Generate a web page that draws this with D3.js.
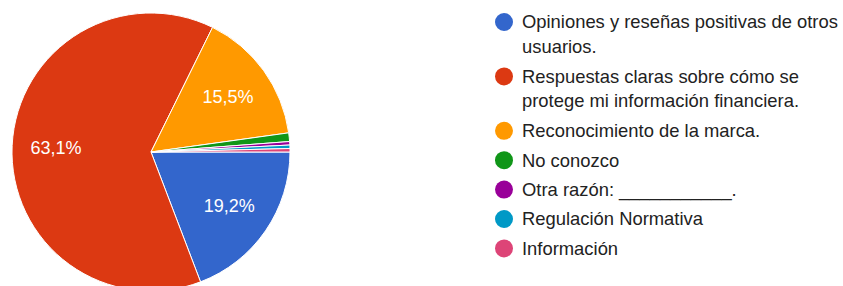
<!DOCTYPE html>
<html>
<head>
<meta charset="utf-8">
<script src="https://cdn.jsdelivr.net/npm/d3@7"></script>
<style>
  body { margin: 0; background: #fff; }
  svg { display: block; font-family: "Liberation Sans", Arial, sans-serif; }
</style>
</head>
<body>
<script>
const width = 843;
const height = 286;

// categories (legend lines as shown, wrapped)
const categories = [
	["Opiniones y reseñas positivas de otros", "usuarios."],
	["Respuestas claras sobre cómo se", "protege mi información financiera."],
	["Reconocimiento de la marca."],
	["No conozco"],
	["Otra razón: ___________."],
	["Regulación Normativa"],
	["Información"]
];
// share of answers, percent
const values = [19.2, 63.1, 15.5, 1.0, 0.4, 0.4, 0.4];
const colors = ["#3366cc", "#dc3912", "#ff9900", "#109618", "#990099", "#0099c6", "#dd4477"];

const cx = 151, cy = 152, radius = 139;

const svg = d3.select("body")
	.append("svg")
	.attr("width", width)
	.attr("height", height);

const pie = d3.pie()
	.sort(null)
	.value(d => d)
	.startAngle(Math.PI / 2)
	.endAngle(Math.PI / 2 + 2 * Math.PI);

const arc = d3.arc()
	.innerRadius(0)
	.outerRadius(radius);

const labelArc = d3.arc()
	.innerRadius(95)
	.outerRadius(95);

const arcs = pie(values);

const g = svg.append("g")
	.attr("transform", `translate(${cx},${cy})`);

g.selectAll("path")
	.data(arcs)
	.enter()
	.append("path")
	.attr("d", arc)
	.attr("fill", (d, i) => colors[i])
	.attr("stroke", "#fff")
	.attr("stroke-width", 1);

// percentage labels only on big slices
g.selectAll("text")
	.data(arcs.filter(d => d.data > 5))
	.enter()
	.append("text")
	.attr("transform", d => `translate(${labelArc.centroid(d)})`)
	.attr("text-anchor", "middle")
	.attr("dy", "0.35em")
	.attr("fill", "#fff")
	.style("font-size", "18px")
	.text(d => d3.format(".1f")(d.data).replace(".", ",") + "%");

// legend
const legend = svg.append("g")
	.attr("transform", "translate(504,0)");

let y = 22;
categories.forEach((lines, i) => {
	legend.append("circle")
		.attr("cx", 0)
		.attr("cy", y)
		.attr("r", 9)
		.attr("fill", colors[i]);
	const t = legend.append("text")
		.attr("x", 18)
		.attr("y", y)
		.attr("fill", "#222")
		.style("font-size", "18.4px");
	lines.forEach((line, j) => {
		t.append("tspan")
			.attr("x", 18)
			.attr("dy", j === 0 ? "0.35em" : 24.5)
			.text(line);
	});
	y += 29.4 + (lines.length - 1) * 25;
});
</script>
</body>
</html>
